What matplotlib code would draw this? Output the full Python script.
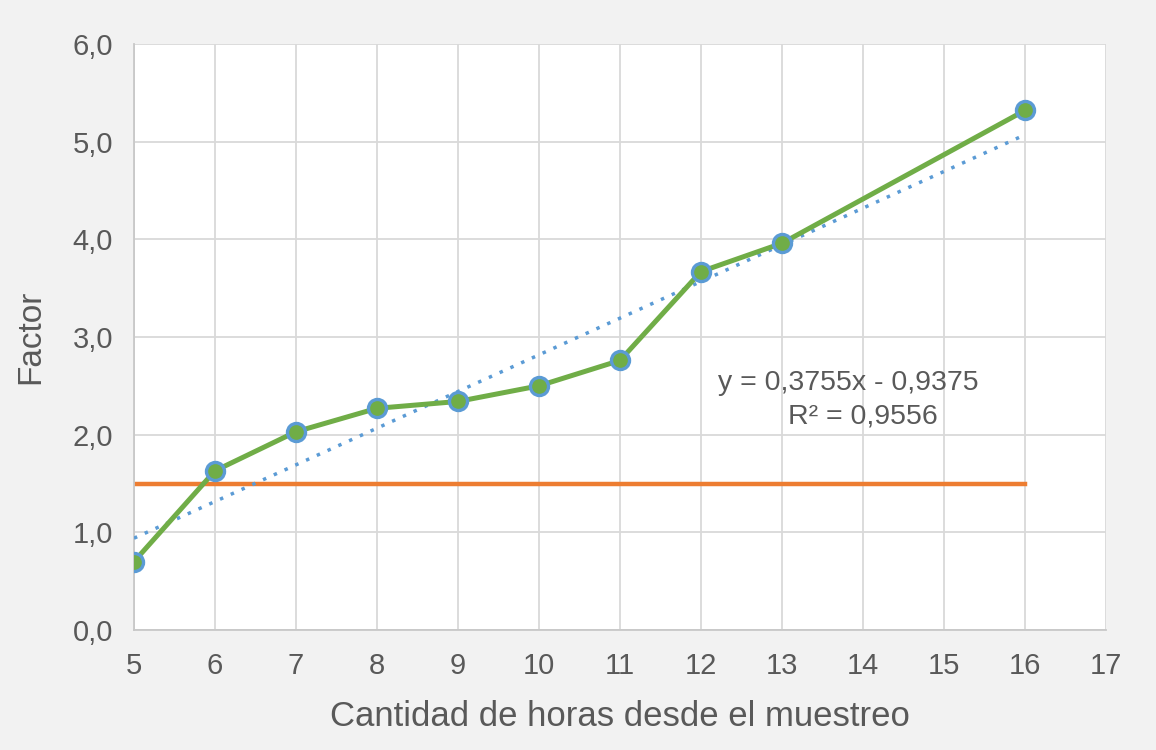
import matplotlib
matplotlib.use("Agg")
import matplotlib.pyplot as plt
import numpy as np

hours = [5, 6, 7, 8, 9, 10, 11, 12, 13, 16]
factor = [0.70, 1.63, 2.03, 2.27, 2.34, 2.50, 2.76, 3.67, 3.96, 5.32]
threshold = 1.5
slope, intercept = 0.3755, -0.9375
xticks = list(range(5, 18))
yticks = [0, 1, 2, 3, 4, 5, 6]
ytick_labels = ["0,0", "1,0", "2,0", "3,0", "4,0", "5,0", "6,0"]

plt.rcParams['font.family'] = ['Liberation Sans', 'DejaVu Sans']
txt = '#595959'

fig = plt.figure(figsize=(11.56, 7.5), dpi=100, facecolor='#f2f2f2')
ax = fig.add_axes([0.1159, 0.16, 0.8408, 0.7813])
ax.set_facecolor('white')

ax.set_xlim(5, 17)
ax.set_ylim(0, 6)
ax.set_xticks(xticks)
ax.set_yticks(yticks)
ax.set_yticklabels(ytick_labels)
ax.grid(True, color='#d9d9d9', linewidth=1.3)
ax.set_axisbelow(True)
for s in ['top', 'right']:
    ax.spines[s].set_visible(False)
for s in ['left', 'bottom']:
    ax.spines[s].set_color('#c8c8c8')
    ax.spines[s].set_linewidth(1.3)
ax.tick_params(length=0, labelsize=21, colors=txt)
ax.tick_params(axis='x', pad=16)
ax.tick_params(axis='y', pad=15)

# threshold line
ax.plot([hours[0], hours[-1]], [threshold, threshold], color='#ed7d31', lw=3.2, zorder=2)

# trend line
xt = np.array([hours[0], hours[-1]])
ax.plot(xt, slope * xt + intercept, color='#5b9bd5', lw=2.5, linestyle=(0, (1, 2.4)), zorder=3)

# data
ax.plot(hours, factor, color='#70ad47', lw=3.6, marker='o', markersize=13,
        markerfacecolor='#70ad47', markeredgecolor='#5b9bd5', markeredgewidth=2.4, zorder=4)

ax.text(13.815, 2.53, "y = 0,3755x - 0,9375", ha='center', va='center', fontsize=20.5, color=txt)
ax.text(14.0, 2.19, "R² = 0,9556", ha='center', va='center', fontsize=20.5, color=txt)

ax.set_xlabel("Cantidad de horas desde el muestreo", fontsize=25, color=txt, va='center')
ax.set_ylabel("Factor", fontsize=24, color=txt, va='center')
ax.xaxis.set_label_coords(0.5, -0.147)
ax.yaxis.set_label_coords(-0.106, 0.5)

fig.savefig("out.png", dpi=100, facecolor=fig.get_facecolor())
